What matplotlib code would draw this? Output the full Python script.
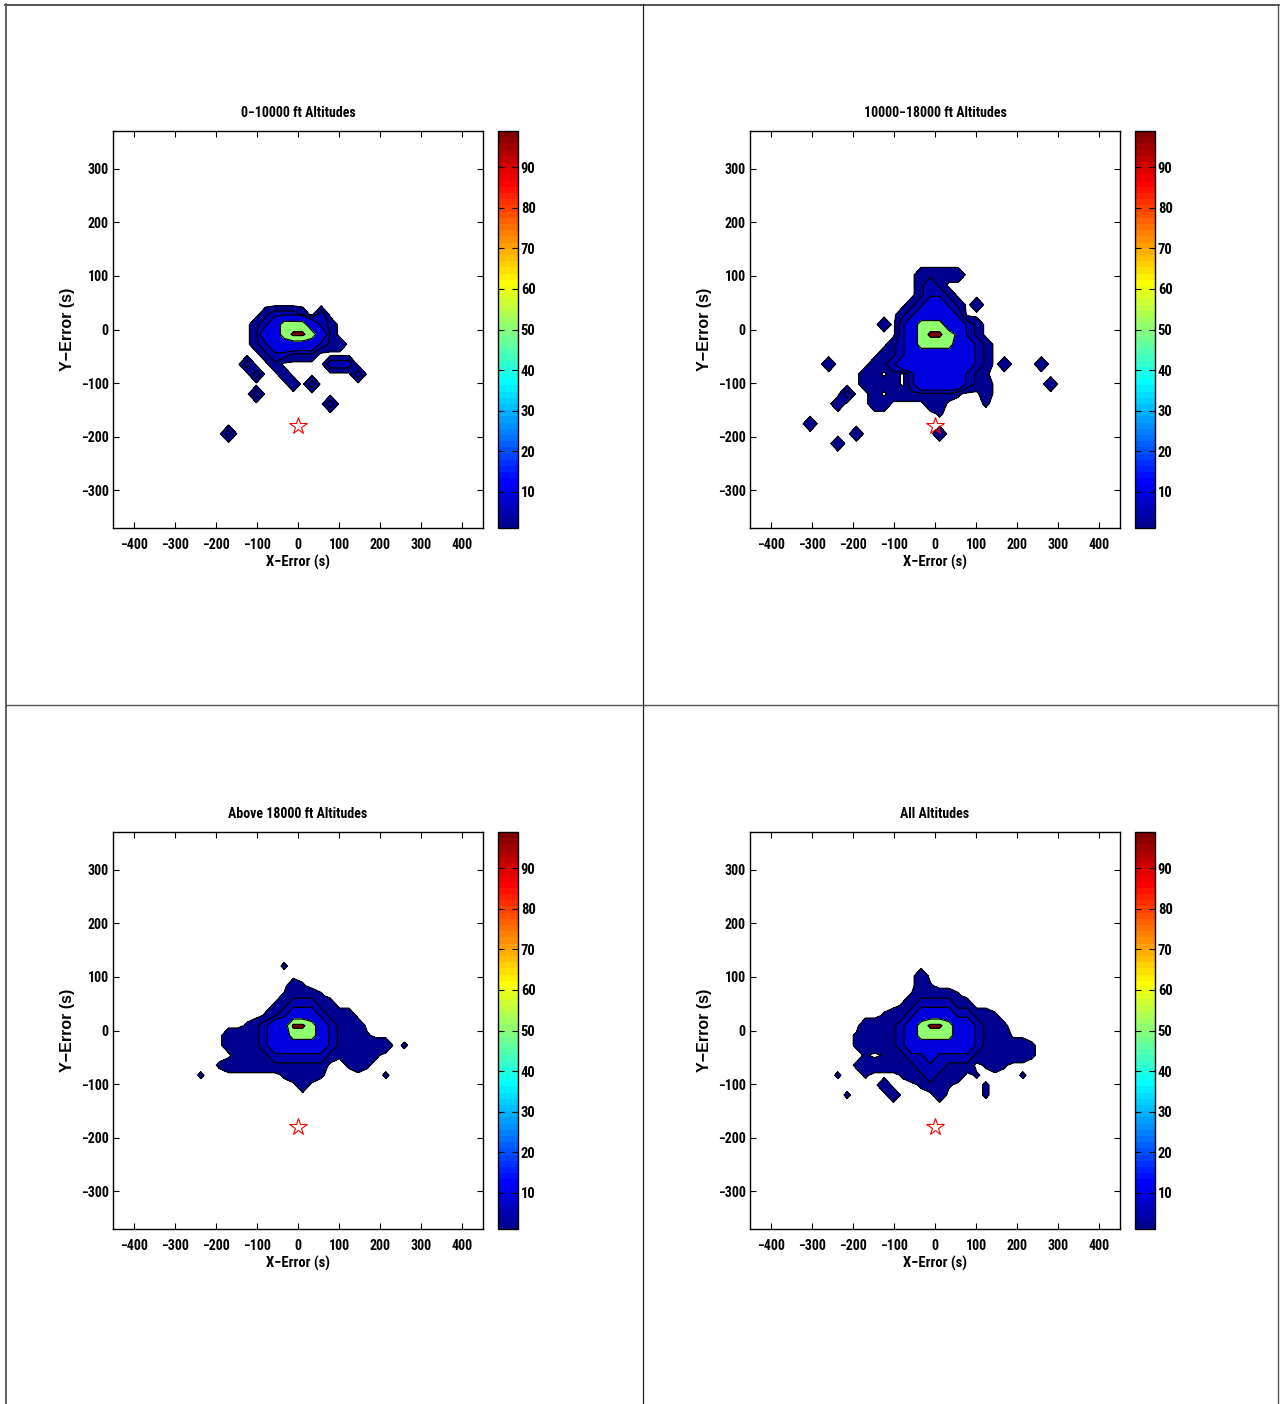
import numpy as np
import matplotlib
matplotlib.use("Agg")
import matplotlib.pyplot as plt
from matplotlib import font_manager as fm
from matplotlib.colors import ListedColormap, Normalize
from matplotlib.cm import ScalarMappable
from matplotlib.lines import Line2D


def pick_narrow_font():
    """Prefer a narrow/condensed sans face; fall back to a compact regular one."""
    entries = fm.fontManager.ttflist
    names = {f.name for f in entries}
    for n in ['Liberation Sans Narrow', 'Arial Narrow', 'Nimbus Sans Narrow',
              'Roboto Condensed', 'Open Sans Condensed', 'Noto Sans Condensed',
              'DejaVu Sans Condensed']:
        if n in names:
            return n, 'normal'
    for f in entries:
        st = str(f.stretch).lower()
        if ('narrow' in f.name.lower() or 'condensed' in f.name.lower()
                or st in ('condensed', 'semi-condensed', 'extra-condensed', '700', '600')):
            return f.name, f.stretch
    return 'Liberation Sans', 'normal'


NARROW, NARROW_STRETCH = pick_narrow_font()
plt.rcParams['font.family'] = [NARROW, 'Liberation Sans', 'DejaVu Sans']
plt.rcParams['font.stretch'] = NARROW_STRETCH
plt.rcParams['font.weight'] = 'bold'
plt.rcParams['axes.unicode_minus'] = True

# ---- histogram grid: 40 x 40 bins over the plotted error window ----
N_BINS = 40
X0, DX = -438.75, 22.5
Y0, DY = -360.75, 18.5

TITLES = ["0\u221210000 ft Altitudes", "10000\u221218000 ft Altitudes",
          "Above 18000 ft Altitudes", "All Altitudes"]
X_TICKS = [-400, -300, -200, -100, 0, 100, 200, 300, 400]
Y_TICKS = [-300, -200, -100, 0, 100, 200, 300]
CBAR_TICKS = [10, 20, 30, 40, 50, 60, 70, 80, 90]
CLIM = (1, 99)
LEVELS = [1, 5, 10, 50, 98]
TARGET_X, TARGET_Y = 0, -180

# density band per bin (percent of peak), keyed by character
BAND_VALUES = {'.': 0.0, '1': 1.5, '2': 4.0, '3': 8.0, '4': 20.0,
               '5': 40.0, '6': 70.0, '7': 108.0}

# each block: first column index, top row index, rows from top to bottom
LOW_COL0, LOW_ROWTOP = 11, 21
LOW_ROWS = [
    ".....23332.3.....",
    "....234666432....",
    "....244677642....",
    "....2344444322...",
    ".....233222......",
    "...3..2.....333..",
    "....3..2.......3.",
    "........2.3......",
    "....3............",
    "............3....",
    ".................",
    ".................",
    ".3...............",
]

MID_COL0, MID_ROWTOP = 5, 25
MID_ROWS = [
    ".............22222...........",
    ".............232.............",
    ".............2332............",
    "............234432.2.........",
    "...........2344443...........",
    ".........2.346664432.........",
    "...........346776532.........",
    "..........23466664432........",
    ".........223444444432........",
    "...2....2234444444432.2...2..",
    ".......22.2.344444321........",
    ".......2222.344444322......2.",
    ".....3..2.22222221..2........",
    "....2...22....22....1........",
    "...............1.............",
    ".2...........................",
    "......2........2.............",
    "....2........................",
]

HIGH_COL0, HIGH_ROWTOP = 8, 26
HIGH_ROWS = [
    "..........1.............",
    "........................",
    "...........21...........",
    "..........12221.........",
    ".........1233322........",
    "........1234443222......",
    "......1234477643222.....",
    "....2222344666432221....",
    "....222234444443222222.1",
    ".....2222333333211221...",
    "...122222222222..121....",
    ".1........12221......1..",
    "............2...........",
]

ALL_COL0, ALL_ROWTOP = 8, 25
ALL_ROWS = [
    "..........2.............",
    "..........21............",
    ".........122221.........",
    "........12333322........",
    "......1223444433221.....",
    "....2222346776443221....",
    "...12222346666443222....",
    "...12222344444443222221.",
    "....1.12233433332222221.",
    "...1222222333222.121....",
    ".1..1...1223222.1....1..",
    "......2...1221...1......",
    "..1....2....2....1......",
]


def jet64():
    t = np.arange(1, 65) / 64.0
    r = np.clip(1.5 - np.abs(4 * t - 3), 0, 1)
    g = np.clip(1.5 - np.abs(4 * t - 2), 0, 1)
    b = np.clip(1.5 - np.abs(4 * t - 1), 0, 1)
    return ListedColormap(np.column_stack([r, g, b]))


def density(rows, col0, rowtop):
    z = np.zeros((N_BINS, N_BINS))
    for r, line in enumerate(rows):
        j = rowtop - r
        for k, ch in enumerate(line):
            z[j, col0 + k] = BAND_VALUES[ch]
    return z


cmap = jet64()
vmin, vmax = CLIM
fill_colors = [cmap(min(63, int((lv - vmin) / (vmax - vmin) * 64))) for lv in LEVELS]

xc = X0 + DX * np.arange(N_BINS)
yc = Y0 + DY * np.arange(N_BINS)
XX, YY = np.meshgrid(xc, yc)

panels = [
    (density(LOW_ROWS, LOW_COL0, LOW_ROWTOP), TITLES[0]),
    (density(MID_ROWS, MID_COL0, MID_ROWTOP), TITLES[1]),
    (density(HIGH_ROWS, HIGH_COL0, HIGH_ROWTOP), TITLES[2]),
    (density(ALL_ROWS, ALL_COL0, ALL_ROWTOP), TITLES[3]),
]

W, H = 1281, 1404
fig = plt.figure(figsize=(W / 100, H / 100), dpi=100)
fig.patch.set_facecolor('white')


def px_rect(left, top, right, bottom):
    return [left / W, 1 - bottom / H, (right - left) / W, (bottom - top) / H]


axes_px = [(113, 131, 483, 528), (750, 131, 1120, 528),
           (113, 832, 483, 1229), (750, 832, 1120, 1229)]
cbar_px = [(498, 131, 518, 528), (1135, 131, 1155, 528),
           (498, 832, 518, 1229), (1135, 832, 1155, 1229)]

tick_font = dict(fontsize=10, fontweight='bold')


def fmt(v):
    return f"{v}".replace('-', '\u2212')


for (z, title), apx, cpx in zip(panels, axes_px, cbar_px):
    ax = fig.add_axes(px_rect(*apx))
    ax.contourf(XX, YY, z, levels=LEVELS + [1000.0], colors=fill_colors)
    ax.contour(XX, YY, z, levels=LEVELS, colors='black', linewidths=0.9)
    ax.plot([TARGET_X], [TARGET_Y], marker='*', ms=13, mfc='none',
            mec='red', mew=0.8, linestyle='none')
    ax.set_xlim(-450, 450)
    ax.set_ylim(-370, 370)
    ax.set_xticks(X_TICKS)
    ax.set_yticks(Y_TICKS)
    ax.set_xticklabels([fmt(v) for v in X_TICKS], **tick_font)
    ax.set_yticklabels([fmt(v) for v in Y_TICKS], **tick_font)
    ax.tick_params(direction='in', top=True, right=True, length=4, width=0.8)
    ax.tick_params(axis='x', pad=7)
    ax.tick_params(axis='y', pad=3)
    for s in ax.spines.values():
        s.set_linewidth(1.0)
    ax.set_title(title, fontsize=10, fontweight='bold', pad=10)
    ax.set_xlabel("X\u2212Error (s)", fontsize=10.5, fontweight='bold', labelpad=2)
    ax.set_ylabel("Y\u2212Error (s)", fontsize=11.5, fontweight='bold', labelpad=4,
                  family=['Liberation Sans', 'DejaVu Sans'], stretch='normal')

    cax = fig.add_axes(px_rect(*cpx))
    cb = fig.colorbar(ScalarMappable(norm=Normalize(vmin, vmax), cmap=cmap), cax=cax)
    cb.set_ticks(CBAR_TICKS)
    cb.set_ticklabels([str(v) for v in CBAR_TICKS])
    cax.tick_params(axis='y', direction='in', left=True, right=True,
                    length=4, width=0.8, pad=2, labelsize=10.5)
    for lab in cax.get_yticklabels():
        lab.set_fontweight('bold')
    cb.outline.set_linewidth(1.0)


# page frame and panel dividers
def fig_line(x0, y0, x1, y1, color, lw):
    fig.add_artist(Line2D([x0 / W, x1 / W], [1 - y0 / H, 1 - y1 / H],
                          transform=fig.transFigure, color=color, lw=lw))


fig_line(5, 4.5, 1279, 4.5, '#444444', 1.3)
fig_line(6, 4, 6, 1404, '#555555', 1.3)
fig_line(1278, 4, 1278, 1404, '#555555', 1.0)
fig_line(642.5, 4, 642.5, 1404, '#222222', 0.9)
fig_line(6, 705, 1278, 705, '#555555', 1.0)

fig.savefig("out.png", dpi=100, facecolor='white')
